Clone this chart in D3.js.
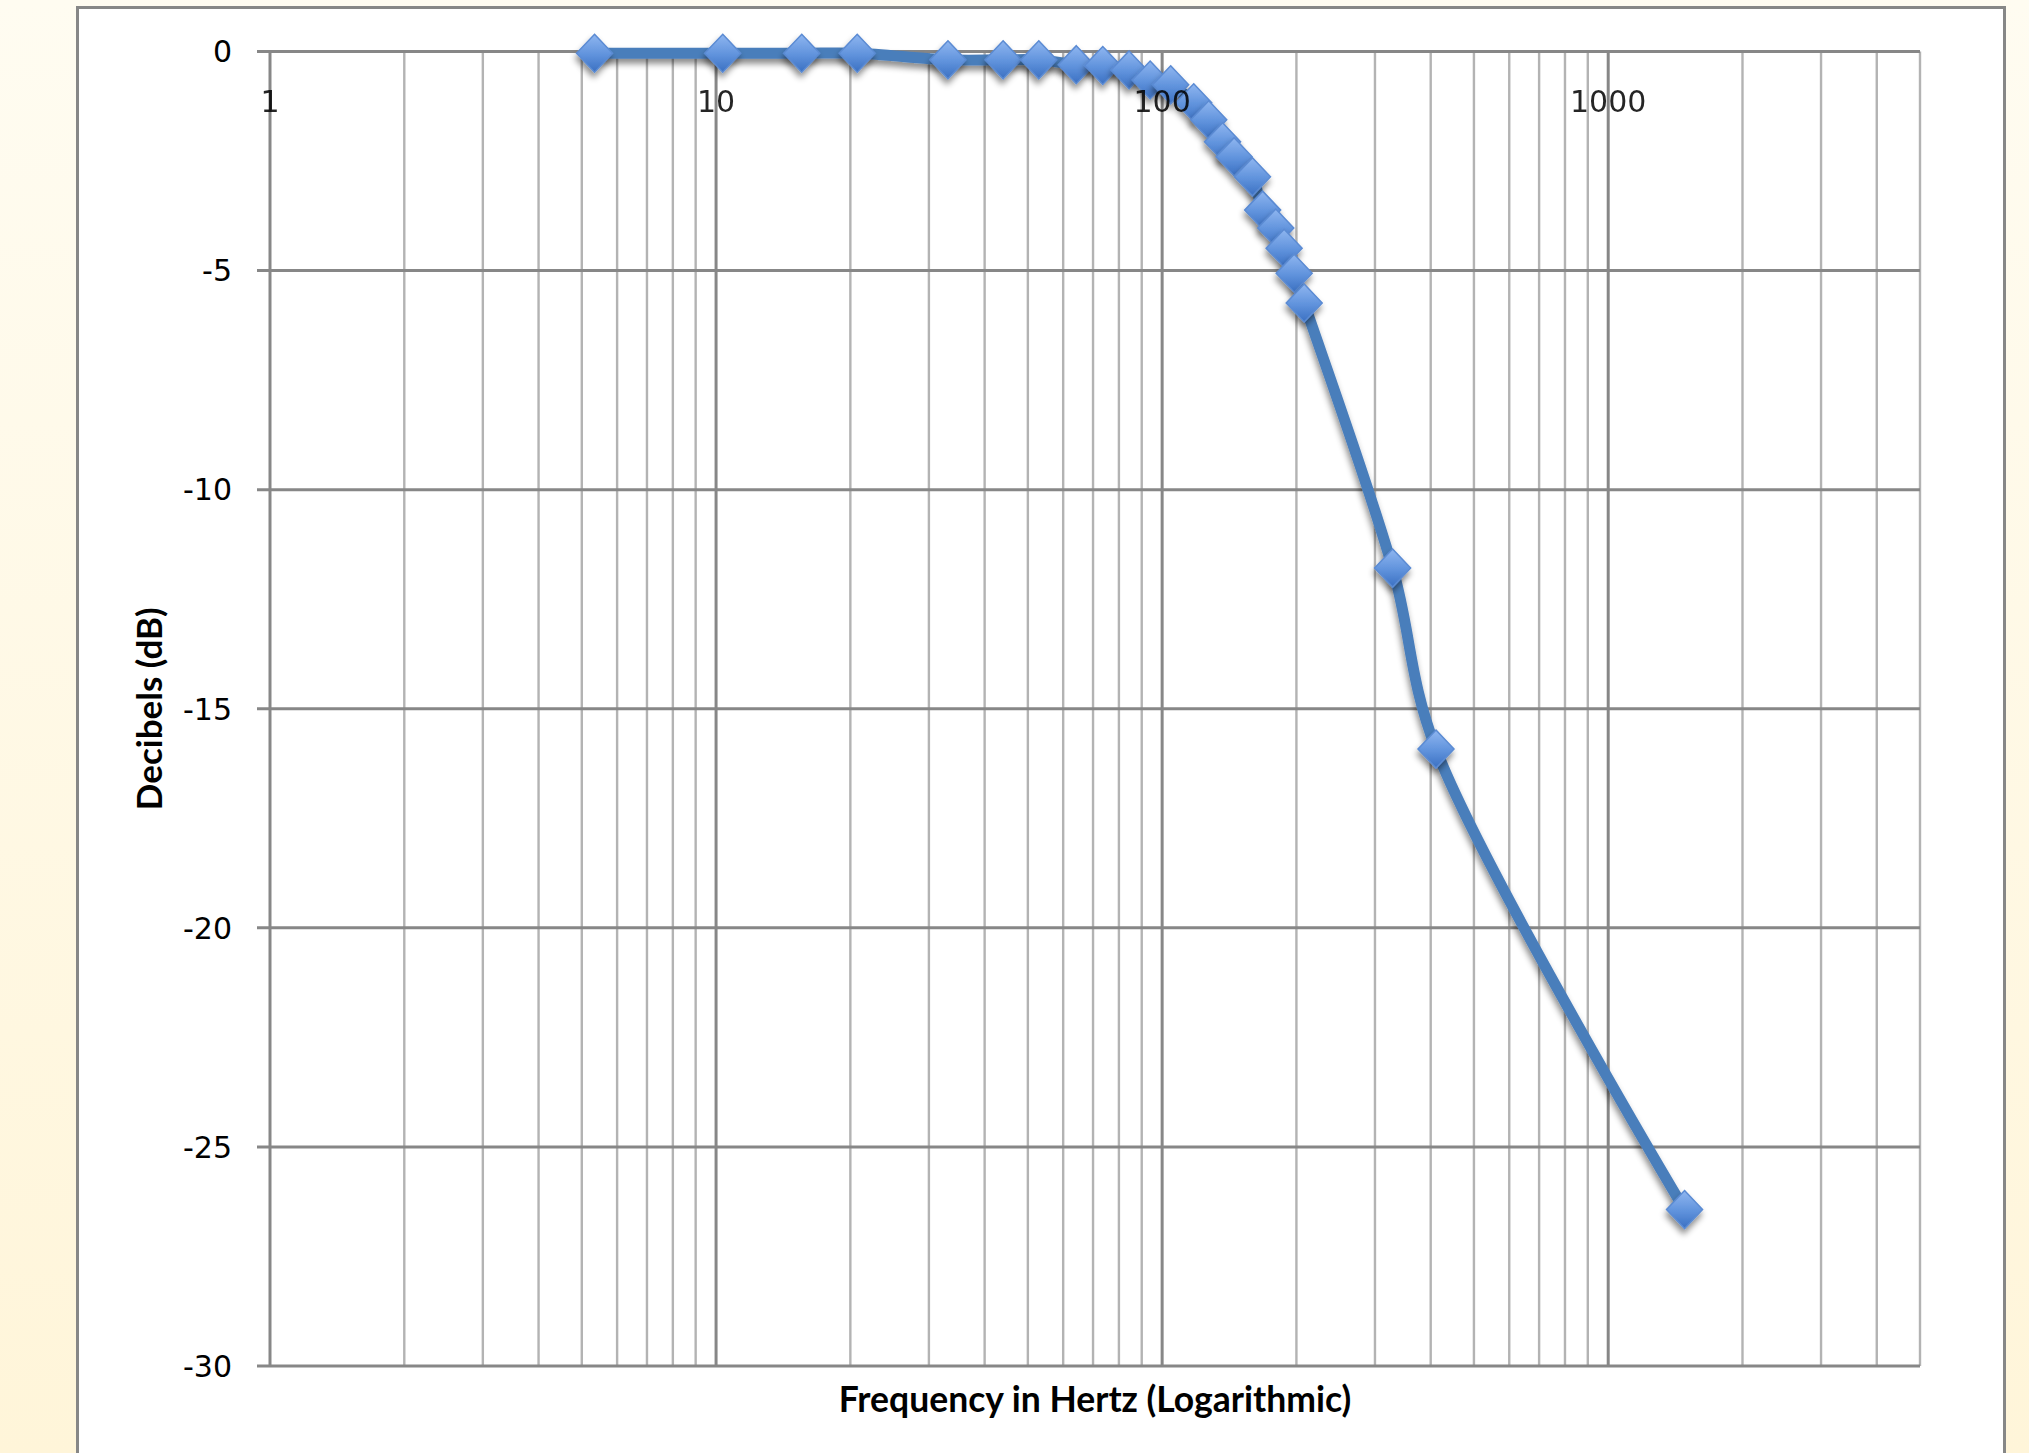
<!DOCTYPE html>
<html>
<head>
<meta charset="utf-8">
<script src="https://cdn.jsdelivr.net/npm/d3@7"></script>
<style>
  html, body { margin: 0; padding: 0; }
  body { width: 2029px; height: 1453px; overflow: hidden; }
</style>
</head>
<body>
<div id="chart"></div>
<script>
// 频率（Hz）与分贝读数
const freqHz = [5.34, 10.35, 15.56, 20.72, 33.1, 44.0, 52.9, 64.2, 73.6, 84.3, 94.0, 104.5,
                117.7, 127.2, 136.6, 145.0, 159.4, 168.0, 179.8, 187.7, 197.7, 208.2,
                328.6, 411.1, 1483];
const decibels = [-0.04, -0.04, -0.04, -0.04, -0.19, -0.19, -0.19, -0.3, -0.32, -0.42, -0.65, -0.76,
                  -1.17, -1.56, -2.06, -2.4, -2.86, -3.62, -4.03, -4.49, -5.06, -5.74,
                  -11.79, -15.92, -26.43];

// 坐标轴刻度
const xTickValues = [1, 10, 100, 1000];
const xTickLabels = ["1", "10", "100", "1000"];
const yTickValues = [0, -5, -10, -15, -20, -25, -30];
const yTickLabels = ["0", "-5", "-10", "-15", "-20", "-25", "-30"];

const xTitle = "Frequency in Hertz (Logarithmic)";
const yTitle = "Decibels (dB)";

function drawChart(container) {
    d3.select(container).html("");

    const W = 2029, H = 1453;
    const plot = {left: 270, right: 1920, top: 51.5, bottom: 1366};

    const svg = d3.select(container)
        .append("svg")
        .attr("width", W)
        .attr("height", H);

    const defs = svg.append("defs");

    // 页面背景渐变
    const bg = defs.append("linearGradient")
        .attr("id", "bg")
        .attr("x1", 0).attr("y1", 0).attr("x2", 0).attr("y2", 1);
    bg.append("stop").attr("offset", "0%").attr("stop-color", "#fffcf1");
    bg.append("stop").attr("offset", "100%").attr("stop-color", "#fff5d9");

    // 菱形标记渐变
    const mk = defs.append("linearGradient")
        .attr("id", "mk")
        .attr("x1", 0).attr("y1", 0).attr("x2", 0).attr("y2", 1);
    mk.append("stop").attr("offset", "0%").attr("stop-color", "#8fb6f0");
    mk.append("stop").attr("offset", "55%").attr("stop-color", "#5f92dc");
    mk.append("stop").attr("offset", "100%").attr("stop-color", "#3b70c2");

    // 阴影
    const sh = defs.append("filter")
        .attr("id", "shadow")
        .attr("x", "-50%").attr("y", "-50%")
        .attr("width", "200%").attr("height", "200%");
    sh.append("feDropShadow")
        .attr("dx", -1).attr("dy", 5)
        .attr("stdDeviation", 3)
        .attr("flood-color", "#000")
        .attr("flood-opacity", 0.45);

    svg.append("rect")
        .attr("width", W).attr("height", H)
        .attr("fill", "url(#bg)");

    // 图表区域
    svg.append("rect")
        .attr("x", 77.5).attr("y", 7.5)
        .attr("width", 1927).attr("height", 1500)
        .attr("fill", "#ffffff")
        .attr("stroke", "#878787")
        .attr("stroke-width", 3);

    // 比例尺
    const x = d3.scaleLog()
        .domain([1, 5000])
        .range([plot.left, plot.right]);

    const y = d3.scaleLinear()
        .domain([-30, 0])
        .range([plot.bottom, plot.top]);

    const isMajor = v => Math.abs(Math.log10(v) - Math.round(Math.log10(v))) < 1e-9;

    // 垂直网格线
    const vTicks = x.ticks();
    svg.append("g")
        .selectAll("line")
        .data(vTicks)
        .enter().append("line")
        .attr("x1", d => x(d)).attr("x2", d => x(d))
        .attr("y1", plot.top).attr("y2", plot.bottom)
        .attr("stroke", d => isMajor(d) ? "#878787" : "#b3b3b3")
        .attr("stroke-width", d => isMajor(d) ? 3 : 2.4);

    // 水平网格线（含左侧刻度线）
    svg.append("g")
        .selectAll("line")
        .data(yTickValues)
        .enter().append("line")
        .attr("x1", plot.left - 13).attr("x2", plot.right)
        .attr("y1", d => y(d)).attr("y2", d => y(d))
        .attr("stroke", "#878787")
        .attr("stroke-width", 3);

    // Y轴标签
    svg.append("g")
        .selectAll("text")
        .data(yTickValues)
        .enter().append("text")
        .attr("x", 232)
        .attr("y", d => y(d))
        .attr("dy", "0.36em")
        .attr("text-anchor", "end")
        .style("font-family", "'DejaVu Sans', sans-serif")
        .style("font-size", "30px")
        .style("fill", "#000")
        .text((d, i) => yTickLabels[i]);

    // 轴标题
    svg.append("text")
        .attr("x", 1095)
        .attr("y", 1412)
        .attr("text-anchor", "middle")
        .style("font-family", "Lato, 'Open Sans', sans-serif")
        .style("font-weight", "bold")
        .style("font-size", "35.5px")
        .style("fill", "#000")
        .text(xTitle);

    svg.append("text")
        .attr("transform", `translate(162, ${(plot.top + plot.bottom) / 2}) rotate(-90)`)
        .attr("text-anchor", "middle")
        .style("font-family", "Lato, 'Open Sans', sans-serif")
        .style("font-weight", "bold")
        .style("font-size", "35px")
        .style("fill", "#000")
        .text(yTitle);

    // 数据
    const data = freqHz.map((f, i) => ({f: f, db: decibels[i]}));

    const line = d3.line()
        .x(d => x(d.f))
        .y(d => y(d.db))
        .curve(d3.curveCatmullRom.alpha(0.5));

    svg.append("path")
        .datum(data)
        .attr("fill", "none")
        .attr("stroke", "#4a7ebb")
        .attr("stroke-width", 11)
        .attr("stroke-linejoin", "round")
        .attr("filter", "url(#shadow)")
        .attr("d", line);

    // 菱形标记
    svg.selectAll(".dot")
        .data(data)
        .enter().append("path")
        .attr("class", "dot")
        .attr("transform", d => `translate(${x(d.f)}, ${y(d.db)})`)
        .attr("d", "M0,-19L18,0L0,19L-18,0Z")
        .attr("fill", "url(#mk)")
        .attr("stroke", "#5b8bd3")
        .attr("stroke-width", 1.5)
        .attr("filter", "url(#shadow)");

    // X轴标签（位于0dB轴下方，绘制在数据之上）
    svg.append("g")
        .selectAll("text")
        .data(xTickValues)
        .enter().append("text")
        .attr("x", d => x(d))
        .attr("y", y(0) + 50)
        .attr("dy", "0.36em")
        .attr("text-anchor", "middle")
        .style("font-family", "'DejaVu Sans', sans-serif")
        .style("font-size", "30px")
        .style("fill", "#000")
        .style("opacity", 0.85)
        .text((d, i) => xTickLabels[i]);
}

drawChart("#chart");
</script>
</body>
</html>
